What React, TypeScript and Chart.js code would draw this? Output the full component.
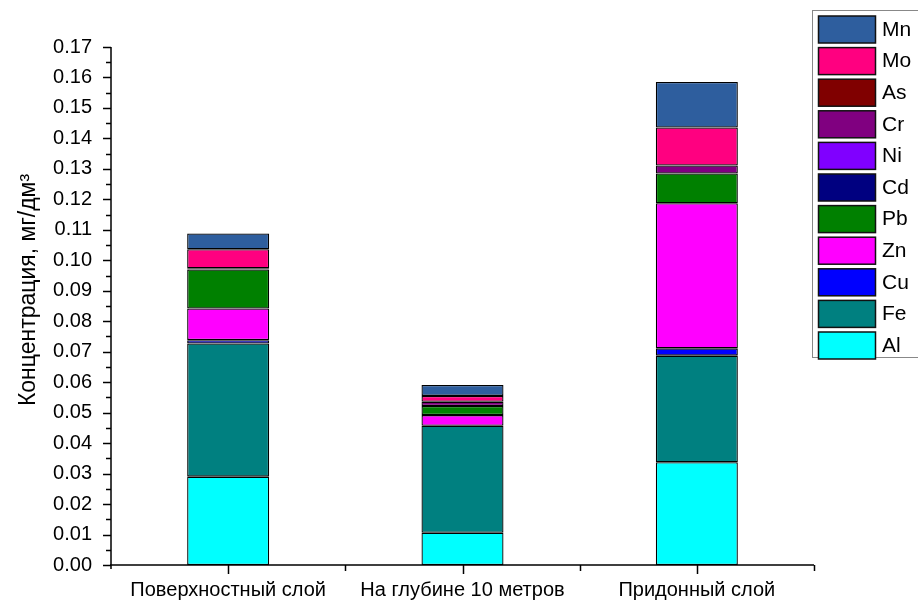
import React, { useEffect, useRef } from "react";
import { Chart, registerables } from "chart.js";

Chart.register(...registerables);

const categories = ["Поверхностный слой", "На глубине 10 метров", "Придонный слой"];

const seriesNames = ["Al", "Fe", "Cu", "Zn", "Pb", "Cd", "Ni", "Cr", "As", "Mo", "Mn"];
const seriesColors = ["#00FFFF", "#008080", "#0000FF", "#FF00FF", "#008000", "#000080", "#8000FF", "#800080", "#800000", "#FF0080", "#2E5E9E"];

const Al = [0.029, 0.0106, 0.0337];
const Fe = [0.0437, 0.0351, 0.035];
const Cu = [0.0011, null, 0.0024];
const Zn = [0.0104, 0.0035, 0.0476];
const Pb = [0.0128, 0.003, 0.0098];
const Cd = [0.0004, null, null];
const Ni = [null, null, null];
const Cr = [null, 0.0014, 0.0026];
const As = [null, null, null];
const Mo = [0.0062, 0.0019, 0.0125];
const Mn = [0.0052, 0.0036, 0.0149];

const seriesValues = [Al, Fe, Cu, Zn, Pb, Cd, Ni, Cr, As, Mo, Mn];

const yMin = 0;
const yMax = 0.17;
const yStep = 0.01;
const yTitle = "Концентрация, мг/дм³";

const FONT = "Arial, 'Liberation Sans', sans-serif";

const axesPlugin = {
  id: "originAxes",
  afterDraw(chart: any) {
    const ctx = chart.ctx;
    const area = chart.chartArea;
    const x = chart.scales.x;
    const y = chart.scales.y;
    ctx.save();
    ctx.strokeStyle = "#000";
    ctx.lineWidth = 1.5;
    // axis lines
    ctx.beginPath();
    ctx.moveTo(area.left, area.top);
    ctx.lineTo(area.left, area.bottom + 4);
    ctx.moveTo(area.left - 1, area.bottom);
    ctx.lineTo(area.right, area.bottom);
    ctx.stroke();
    // y ticks
    ctx.beginPath();
    const n = Math.round((yMax - yMin) / yStep);
    for (let i = 0; i <= n; i++) {
      const v = yMin + i * yStep;
      const py = Math.round(y.getPixelForValue(v)) + 0.5;
      ctx.moveTo(area.left - 8, py);
      ctx.lineTo(area.left, py);
      if (i < n) {
        const pm = Math.round(y.getPixelForValue(v + yStep / 2)) + 0.5;
        ctx.moveTo(area.left - 5, pm);
        ctx.lineTo(area.left, pm);
      }
    }
    // x ticks
    for (let i = 0; i < categories.length; i++) {
      const px = Math.round(x.getPixelForValue(i)) + 0.5;
      ctx.moveTo(px, area.bottom);
      ctx.lineTo(px, area.bottom + 9);
      const bx = i < categories.length - 1 ? (x.getPixelForValue(i) + x.getPixelForValue(i + 1)) / 2 : area.right;
      const pb = Math.round(bx) + 0.5;
      ctx.moveTo(pb, area.bottom);
      ctx.lineTo(pb, area.bottom + 6);
    }
    ctx.stroke();

    // y title
    ctx.save();
    ctx.translate(29, 290);
    ctx.rotate(-Math.PI / 2);
    ctx.fillStyle = "#000";
    ctx.font = `23px ${FONT}`;
    ctx.textAlign = "center";
    ctx.textBaseline = "middle";
    ctx.fillText(yTitle, 0, 0);
    ctx.restore();

    // legend
    const lx = 812.5;
    const ly = 10.5;
    ctx.strokeStyle = "#888";
    ctx.lineWidth = 1;
    ctx.strokeRect(lx, ly, 130, 347);
    const ds = chart.data.datasets;
    ctx.font = `21px ${FONT}`;
    ctx.textAlign = "left";
    ctx.textBaseline = "middle";
    for (let k = 0; k < ds.length; k++) {
      const d = ds[ds.length - 1 - k];
      const top = 16 + k * 31.6;
      ctx.fillStyle = d.backgroundColor;
      ctx.fillRect(818.5, top, 57, 27);
      ctx.strokeStyle = "#111";
      ctx.lineWidth = 1.5;
      ctx.strokeRect(818.5, top, 57, 27);
      ctx.fillStyle = "#000";
      ctx.fillText(d.label, 882, top + 14);
    }
    ctx.restore();
  },
};

export default function App() {
  const ref = useRef<HTMLCanvasElement | null>(null);
  useEffect(() => {
    if (!ref.current) return;
    const chart = new Chart(ref.current, {
      type: "bar",
      data: {
        labels: categories,
        datasets: seriesNames.map((name, i) => ({
          label: name,
          data: seriesValues[i],
          backgroundColor: seriesColors[i],
          borderColor: "#000",
          borderWidth: 1.3,
          borderSkipped: false,
          inflateAmount: 0,
          barPercentage: 0.35,
          categoryPercentage: 1,
        })),
      },
      options: {
        responsive: false,
        animation: false,
        events: [],
        layout: { padding: { left: 0, right: 104, top: 47, bottom: 0 } },
        plugins: {
          legend: { display: false },
          tooltip: { enabled: false },
        },
        scales: {
          x: {
            stacked: true,
            offset: true,
            grid: { display: false, drawTicks: false },
            border: { display: false },
            ticks: {
              color: "#000",
              font: { family: FONT, size: 20 },
              padding: 13,
              maxRotation: 0,
              autoSkip: false,
            },
            afterFit: (s: any) => {
              s.height = 39;
            },
          },
          y: {
            stacked: true,
            min: yMin,
            max: yMax,
            grid: { display: false, drawTicks: false },
            border: { display: false },
            ticks: {
              stepSize: yStep,
              color: "#000",
              font: { family: FONT, size: 20 },
              padding: 19,
              callback: (v: any) => Number(v).toFixed(2),
            },
            afterFit: (s: any) => {
              s.width = 111;
            },
          },
        },
      },
      plugins: [axesPlugin],
    });
    return () => chart.destroy();
  }, []);
  return (
    <div style={{ position: "absolute", left: 0, top: 0, width: 918, height: 604, background: "#fff" }}>
      <canvas ref={ref} width={918} height={604} style={{ display: "block" }} />
    </div>
  );
}
